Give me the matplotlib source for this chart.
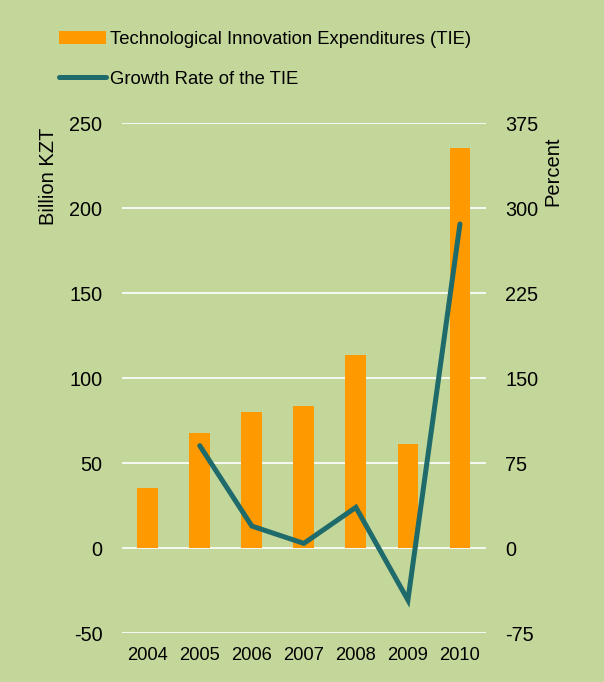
import matplotlib.pyplot as plt
import numpy as np

plt.rcParams['font.family'] = ['Liberation Sans', 'DejaVu Sans']
plt.rcParams['axes.unicode_minus'] = False

years = ['2004', '2005', '2006', '2007', '2008', '2009', '2010']
tie = [35.3, 67.8, 80.0, 83.5, 113.5, 61.2, 235.5]
growth = [np.nan, 90.3, 19.4, 4.1, 35.9, -45.9, 285.9]

left_ticks = [-50, 0, 50, 100, 150, 200, 250]
right_ticks = [-75, 0, 75, 150, 225, 300, 375]

bg = '#c4d79b'
orange = '#ff9900'
teal = '#1f6b6b'

fig = plt.figure(figsize=(6.04, 6.82), dpi=100, facecolor=bg)
ax = fig.add_axes([0.2015, 0.0718, 0.6031, 0.7478])
ax.set_facecolor(bg)

x = np.arange(len(years))
bars = ax.bar(x, tie, width=0.4, color=orange, zorder=2,
              label='Technological Innovation Expenditures (TIE)')
ax.set_ylim(-50, 250)
ax.set_yticks(left_ticks)
ax.set_xlim(-0.5, len(years) - 0.5)
ax.set_xticks(x)
ax.set_xticklabels(years)
ax.grid(axis='y', color='white', linewidth=1.2, zorder=1)
ax.set_axisbelow(True)
ax.tick_params(axis='both', length=0)
ax.tick_params(axis='y', pad=14, labelsize=14.3)
ax.tick_params(axis='x', pad=10, labelsize=13.2)
for s in ax.spines.values():
    s.set_visible(False)

ax2 = ax.twinx()
ax2.patch.set_visible(False)
line, = ax2.plot(x, growth, color=teal, linewidth=3.6, solid_capstyle='round',
                 solid_joinstyle='miter', zorder=3, label='Growth Rate of the TIE')
ax2.set_ylim(-75, 375)
ax2.set_yticks(right_ticks)
ax2.tick_params(axis='y', length=0, labelsize=14.3, pad=13.7)
for s in ax2.spines.values():
    s.set_visible(False)

fig.text(48 / 604, 1 - 128 / 682, 'Billion KZT', rotation=90, ha='center', va='top', fontsize=14.5)
fig.text(553 / 604, 1 - 136 / 682, 'Percent', rotation=90, ha='center', va='top', fontsize=14.5)

leg = fig.legend([bars, line], [bars.get_label(), line.get_label()],
                 loc='upper left', bbox_to_anchor=(52 / 604, 1 - 24 / 682),
                 frameon=False, fontsize=13.3, handlelength=2.5, handletextpad=0.25,
                 labelspacing=1.2, borderaxespad=0)

fig.savefig('out.png', dpi=100, facecolor=bg)
